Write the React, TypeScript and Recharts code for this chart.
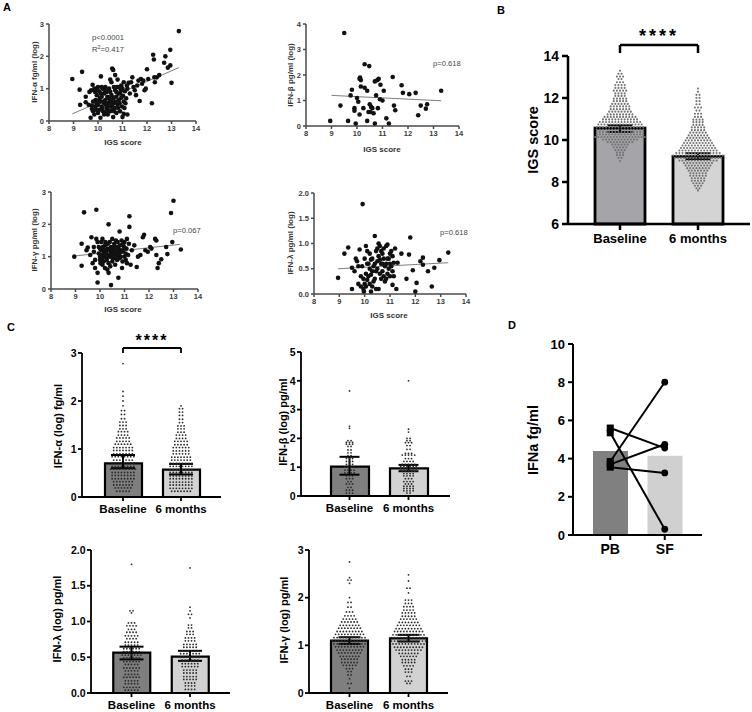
import React from 'react';
import { ScatterChart, ComposedChart, Scatter, Bar, Cell, XAxis, YAxis, ReferenceLine, ErrorBar } from 'recharts';

const FONT = "'Liberation Sans', Arial, Helvetica, sans-serif";

// ---------------- Panel A data (IGS score vs IFN levels) ----------------
const igsTicks = [8, 9, 10, 11, 12, 13, 14];
const alphaTicks = [0, 1, 2, 3];
const betaTicks = [0, 1, 2, 3, 4];
const gammaTicks = [0, 1, 2, 3];
const lambdaTicks = [0, 0.5, 1, 1.5, 2];

const alphaPts: [number, number][] = [
  [8.95, 1.3], [9.25, 0.97], [9.35, 1.52], [9.27, 0.5], [9.5, 0.75], [9.5, 0.58], [9.7, 0.1], [9.75, 0.48], [9.75, 0.38],
  [9.72, 0.95], [9.78, 1.12], [9.8, 0.3], [9.85, 0.2], [9.9, 0.65], [9.9, 0.45], [9.95, 0.55], [9.95, 1.0], [9.95, 0.8],
  [10.0, 0.25], [10.0, 1.05], [10.05, 0.35], [10.05, 0.92], [10.1, 0.1], [10.1, 0.6], [10.12, 1.38], [10.15, 0.45],
  [10.15, 0.75], [10.2, 1.0], [10.2, 0.3], [10.25, 0.55], [10.25, 0.85], [10.3, 0.25], [10.3, 1.05], [10.3, 0.65],
  [10.35, 0.4], [10.35, 0.9], [10.4, 0.55], [10.4, 0.2], [10.45, 1.0], [10.45, 0.7], [10.5, 0.3], [10.5, 1.28],
  [10.52, 0.45], [10.55, 0.8], [10.55, 1.2], [10.58, 1.62], [10.62, 1.58], [10.6, 0.35], [10.62, 0.12], [10.65, 0.55],
  [10.65, 1.05], [10.7, 0.95], [10.7, 1.42], [10.75, 0.25], [10.75, 0.75], [10.8, 1.28], [10.8, 0.5], [10.85, 1.05],
  [10.85, 0.65], [10.9, 0.85], [10.9, 0.3], [10.95, 1.1], [10.95, 0.72], [11.0, 1.0], [11.0, 0.12], [11.02, 0.78],
  [11.05, 0.22], [11.05, 1.2], [11.1, 0.92], [11.12, 0.55], [11.2, 0.2], [11.2, 1.0], [11.25, 1.18], [11.3, 0.85],
  [11.35, 1.2], [11.4, 1.35], [11.45, 1.05], [11.5, 0.95], [11.55, 0.8], [11.6, 1.1], [11.65, 1.25], [11.7, 0.62],
  [11.75, 1.3], [11.8, 1.15], [11.85, 1.25], [11.9, 0.95], [11.95, 1.0], [12.0, 1.6], [12.05, 1.3], [12.2, 0.55],
  [12.25, 2.05], [12.28, 1.9], [12.3, 1.35], [12.32, 1.2], [12.4, 1.35], [12.5, 1.42], [12.7, 1.8], [12.75, 2.0],
  [12.85, 1.65], [12.95, 2.2], [12.95, 1.72], [13.0, 1.18], [13.3, 2.78],
  [9.8, 0.6], [9.88, 0.9], [10.0, 0.5], [10.08, 0.72], [10.12, 0.85], [10.18, 0.4], [10.22, 0.6], [10.28, 0.95],
  [10.32, 0.5], [10.38, 0.75], [10.42, 0.32], [10.48, 0.6], [10.5, 0.9], [10.58, 0.5], [10.62, 0.7], [10.68, 0.4],
  [10.72, 0.6], [10.78, 1.05], [10.82, 0.4], [10.88, 0.55], [10.92, 1.0], [10.98, 0.45], [11.05, 0.6], [11.08, 0.4],
  [11.15, 0.7], [11.18, 1.1], [9.92, 0.35], [10.05, 0.65], [10.15, 1.05], [10.25, 0.2], [10.35, 0.3], [10.45, 0.45],
  [10.55, 0.6], [10.65, 0.3], [10.75, 0.9], [10.85, 0.85], [10.95, 0.95], [9.65, 0.9], [9.62, 0.5], [9.85, 1.0],
];
const alphaFit: [number, number][] = [[8.95, 0.22], [13.3, 1.65]];

const betaPts: [number, number][] = [
  [8.95, 0.2], [9.35, 0.8], [9.5, 3.65], [9.65, 0.2], [9.75, 1.2], [9.8, 1.42], [9.9, 0.7], [9.9, 0.6], [9.95, 0.1],
  [10.0, 1.1], [10.05, 0.95], [10.1, 0.45], [10.1, 1.85], [10.12, 1.9], [10.15, 1.8], [10.15, 1.55], [10.25, 0.7],
  [10.3, 2.42], [10.3, 1.5], [10.4, 1.38], [10.4, 0.2], [10.45, 0.55], [10.48, 2.35], [10.5, 0.85], [10.52, 0.55],
  [10.55, 0.75], [10.6, 0.7], [10.65, 0.5], [10.7, 0.1], [10.7, 1.75], [10.75, 1.2], [10.8, 1.8], [10.85, 1.85],
  [10.82, 0.7], [10.9, 1.05], [10.92, 1.62], [11.0, 1.0], [11.05, 1.38], [11.15, 0.3], [11.25, 0.1], [11.4, 1.92],
  [11.45, 0.8], [11.5, 0.62], [11.75, 1.6], [11.8, 1.3], [12.05, 1.25], [12.3, 1.3], [12.4, 0.42], [12.5, 0.8],
  [12.7, 0.68], [12.75, 0.85], [13.3, 1.38],
];
const betaFit: [number, number][] = [[9.0, 1.2], [13.3, 0.99]];

const gammaPts: [number, number][] = [
  [8.95, 1.0], [9.25, 1.4], [9.25, 0.72], [9.35, 2.37], [9.45, 1.2], [9.5, 1.28], [9.6, 1.05], [9.65, 1.6], [9.7, 0.8],
  [9.75, 1.15], [9.8, 0.65], [9.85, 2.45], [9.85, 1.55], [9.9, 0.2], [9.9, 0.5], [9.95, 1.3], [10.0, 1.0], [10.0, 0.9],
  [10.05, 1.2], [10.1, 1.55], [10.1, 0.75], [10.15, 1.1], [10.2, 0.65], [10.2, 1.35], [10.25, 1.0], [10.3, 0.6],
  [10.3, 1.25], [10.35, 0.5], [10.35, 2.0], [10.4, 1.45], [10.45, 0.12], [10.45, 1.1], [10.5, 0.85], [10.5, 1.55],
  [10.55, 1.3], [10.6, 0.95], [10.65, 1.5], [10.7, 1.15], [10.75, 0.35], [10.75, 1.0], [10.8, 1.78], [10.85, 1.2],
  [10.9, 0.65], [10.95, 1.4], [11.0, 1.0], [11.05, 0.9], [11.1, 1.55], [11.2, 2.25], [11.2, 1.92], [11.25, 0.75],
  [11.3, 1.2], [11.4, 1.35], [11.5, 0.68], [11.55, 1.0], [11.65, 1.05], [11.75, 1.6], [11.8, 1.68], [11.85, 1.2],
  [11.95, 1.15], [12.05, 1.3], [12.1, 1.25], [12.25, 1.55], [12.3, 1.5], [12.3, 1.05], [12.35, 0.65], [12.4, 0.8],
  [12.5, 0.92], [12.7, 1.3], [12.75, 1.08], [12.9, 2.35], [12.95, 1.45], [13.0, 2.73], [13.3, 1.22],
  [9.95, 1.1], [10.0, 1.25], [10.02, 0.8], [10.05, 1.45], [10.08, 1.05], [10.1, 0.95], [10.12, 1.3], [10.15, 0.85],
  [10.18, 1.2], [10.2, 1.0], [10.22, 1.45], [10.25, 1.15], [10.28, 0.9], [10.3, 1.05], [10.32, 1.4], [10.35, 0.8],
  [10.38, 1.2], [10.4, 1.0], [10.42, 0.7], [10.45, 1.3], [10.48, 1.05], [10.5, 1.2], [10.52, 0.95], [10.55, 1.1],
  [10.58, 1.4], [10.6, 1.2], [10.62, 0.75], [10.65, 1.05], [10.68, 1.3], [10.7, 0.9], [10.72, 1.45], [10.75, 1.25],
  [10.78, 1.1], [10.8, 0.95], [10.82, 1.35], [10.85, 1.0], [10.88, 1.5], [10.9, 1.15], [10.92, 0.85], [10.95, 1.2],
  [10.98, 1.3], [11.0, 1.45], [11.05, 1.1], [11.08, 1.25], [11.1, 0.8], [11.15, 1.05], [11.18, 1.4], [9.75, 1.3],
  [9.9, 1.45], [9.8, 0.9],
];
const gammaFit: [number, number][] = [[8.95, 1.02], [13.25, 1.38]];

const lambdaPts: [number, number][] = [
  [8.95, 0.32], [9.2, 0.8], [9.35, 0.92], [9.5, 0.52], [9.5, 0.1], [9.6, 0.45], [9.65, 0.7], [9.7, 0.65], [9.75, 0.2],
  [9.75, 0.55], [9.8, 0.88], [9.85, 0.15], [9.9, 0.55], [9.92, 1.78], [9.95, 0.1], [9.97, 0.05], [10.0, 0.7],
  [10.05, 0.4], [10.05, 0.95], [10.1, 0.28], [10.1, 0.6], [10.15, 0.35], [10.2, 0.5], [10.2, 0.8], [10.25, 0.05],
  [10.25, 0.68], [10.3, 0.15], [10.3, 0.45], [10.35, 0.25], [10.4, 1.15], [10.4, 0.6], [10.45, 0.1], [10.45, 0.85],
  [10.5, 0.9], [10.5, 0.5], [10.55, 0.1], [10.55, 1.0], [10.6, 0.68], [10.6, 0.95], [10.65, 0.3], [10.65, 0.6],
  [10.7, 0.8], [10.7, 0.45], [10.75, 0.35], [10.75, 0.7], [10.8, 0.25], [10.85, 0.95], [10.85, 0.6], [10.9, 0.98],
  [10.9, 0.4], [10.95, 0.7], [11.0, 0.35], [11.0, 0.8], [11.05, 0.55], [11.1, 0.18], [11.1, 0.75], [11.15, 0.62],
  [11.2, 0.9], [11.25, 0.1], [11.3, 0.62], [11.45, 0.8], [11.65, 0.3], [11.75, 0.78], [11.8, 1.12], [11.9, 0.47],
  [12.0, 0.05], [12.05, 0.22], [12.2, 0.65], [12.3, 0.72], [12.3, 0.58], [12.5, 0.45], [12.65, 0.15], [12.75, 0.52],
  [12.95, 0.67], [13.3, 0.82],
  [9.85, 0.35], [9.95, 0.3], [10.0, 0.2], [10.05, 0.15], [10.1, 0.85], [10.15, 0.6], [10.2, 0.2], [10.25, 0.38],
  [10.3, 0.7], [10.35, 0.55], [10.4, 0.3], [10.45, 0.45], [10.5, 0.65], [10.55, 0.75], [10.6, 0.4], [10.65, 0.85],
  [10.7, 0.6], [10.75, 0.9], [10.8, 0.55], [10.85, 0.3], [10.9, 0.7], [10.95, 0.5], [11.0, 0.6], [11.05, 0.85],
  [11.1, 0.45], [11.15, 0.35],
];
const lambdaFit: [number, number][] = [[8.95, 0.5], [13.3, 0.62]];

// ---------------- Panel B / C data (bar = mean, dots = individual values as [value, count] rows) ----------------
const timeCats = ['Baseline', '6 months'];

const igsMeans = [10.56, 9.22];
const igsErrs: [number, number][] = [[0.18, 0.14], [0.13, 0.15]];
const igsTicksB = [6, 8, 10, 12, 14];
const igsBaseRows: [number, number][] = [
  [13.3, 1], [13.15, 2], [13.02, 3], [12.9, 2], [12.75, 3], [12.62, 4], [12.48, 4], [12.35, 5], [12.22, 4], [12.1, 4],
  [11.97, 5], [11.85, 5], [11.72, 6], [11.6, 7], [11.47, 7], [11.35, 8], [11.22, 9], [11.1, 11], [10.98, 12],
  [10.86, 14], [10.74, 15], [10.62, 16], [10.5, 16], [10.38, 16], [10.26, 16], [10.14, 17], [10.02, 12], [9.9, 9],
  [9.78, 6], [9.65, 5], [9.52, 4], [9.4, 3], [9.28, 3], [9.15, 2], [9.0, 1],
];
const igs6mRows: [number, number][] = [
  [12.45, 1], [12.3, 1], [12.15, 2], [12.0, 2], [11.85, 2], [11.7, 2], [11.55, 3], [11.4, 2], [11.25, 3], [11.1, 3],
  [10.97, 4], [10.85, 4], [10.72, 4], [10.6, 5], [10.47, 5], [10.35, 6], [10.22, 7], [10.1, 8], [9.98, 9], [9.86, 10],
  [9.74, 11], [9.62, 12], [9.5, 13], [9.38, 15], [9.26, 17], [9.14, 16], [9.02, 13], [8.9, 10], [8.78, 9], [8.66, 8],
  [8.54, 7], [8.42, 6], [8.3, 6], [8.18, 5], [8.06, 5], [7.94, 4], [7.82, 3], [7.7, 2], [7.6, 1],
];

const alphaMeans = [0.7, 0.57];
const alphaErrs: [number, number][] = [[0.1, 0.175], [0.1, 0.12]];
const alphaBaseRows: [number, number][] = [
  [2.78, 1], [2.2, 1], [2.1, 1], [2.0, 1], [1.9, 1], [1.8, 2], [1.72, 2], [1.63, 2], [1.56, 3], [1.49, 3], [1.42, 3],
  [1.36, 4], [1.29, 4], [1.23, 5], [1.16, 5], [1.1, 6], [1.03, 7], [0.97, 7], [0.9, 7], [0.84, 8], [0.77, 7], [0.71, 8],
  [0.64, 8], [0.58, 9], [0.51, 8], [0.45, 8], [0.38, 8], [0.32, 7], [0.25, 7], [0.19, 6], [0.12, 5],
];
const alpha6mRows: [number, number][] = [
  [1.9, 1], [1.84, 2], [1.77, 2], [1.7, 2], [1.62, 2], [1.55, 2], [1.48, 3], [1.42, 3], [1.35, 3], [1.29, 4], [1.22, 4],
  [1.16, 5], [1.09, 5], [1.03, 6], [0.96, 6], [0.9, 6], [0.83, 7], [0.77, 7], [0.7, 8], [0.64, 8], [0.57, 8], [0.51, 8],
  [0.44, 8], [0.38, 8], [0.31, 8], [0.25, 8], [0.18, 8], [0.12, 7],
];

const betaMeans = [1.02, 0.96];
const betaErrs: [number, number][] = [[0.28, 0.34], [0.1, 0.12]];
const betaBaseRows: [number, number][] = [
  [3.65, 1], [2.42, 1], [2.35, 1], [1.92, 2], [1.86, 3], [1.8, 3], [1.72, 2], [1.6, 2], [1.5, 2], [1.4, 2], [1.3, 3],
  [1.2, 3], [1.1, 3], [1.0, 4], [0.9, 4], [0.8, 4], [0.7, 3], [0.6, 3], [0.5, 2], [0.42, 3], [0.3, 2], [0.2, 3], [0.1, 3],
];
const beta6mRows: [number, number][] = [
  [4.0, 1], [2.32, 1], [2.22, 1], [2.0, 2], [1.92, 2], [1.85, 3], [1.75, 2], [1.62, 2], [1.48, 3], [1.42, 5], [1.3, 3],
  [1.2, 4], [1.1, 5], [1.02, 6], [0.94, 6], [0.86, 5], [0.78, 4], [0.7, 4], [0.6, 3], [0.5, 4], [0.42, 3],
  [0.34, 4], [0.26, 4], [0.18, 4], [0.1, 2],
];

const lambdaMeans = [0.564, 0.51];
const lambdaErrs: [number, number][] = [[0.094, 0.084], [0.06, 0.08]];
const lambdaBaseRows: [number, number][] = [
  [1.8, 1], [1.15, 2], [1.12, 1], [0.98, 3], [0.94, 4], [0.89, 3], [0.85, 4], [0.8, 5], [0.76, 4], [0.71, 5], [0.67, 5],
  [0.62, 6], [0.58, 6], [0.53, 7], [0.49, 6], [0.44, 6], [0.4, 5], [0.35, 6], [0.31, 5], [0.26, 5], [0.22, 6], [0.17, 5],
  [0.13, 5], [0.08, 6], [0.04, 5],
];
const lambda6mRows: [number, number][] = [
  [1.75, 1], [1.2, 1], [1.15, 1], [1.1, 2], [1.05, 1], [0.95, 2], [0.91, 2], [0.86, 3], [0.82, 3], [0.77, 4], [0.73, 4],
  [0.68, 5], [0.64, 5], [0.59, 6], [0.55, 7], [0.5, 7], [0.46, 6], [0.41, 6], [0.37, 6], [0.32, 5], [0.28, 5], [0.23, 5],
  [0.19, 5], [0.14, 4], [0.1, 4], [0.05, 4],
];

const gammaMeans = [1.097, 1.147];
const gammaErrs: [number, number][] = [[0.067, 0.073], [0.067, 0.073]];
const gammaBaseRows: [number, number][] = [
  [2.75, 1], [2.42, 1], [2.37, 2], [2.3, 1], [2.0, 1], [1.9, 2], [1.8, 2], [1.7, 3], [1.62, 4], [1.55, 5], [1.49, 6],
  [1.42, 7], [1.36, 8], [1.29, 9], [1.23, 10], [1.16, 11], [1.1, 12], [1.03, 11], [0.97, 10], [0.9, 9], [0.84, 8],
  [0.77, 7], [0.71, 6], [0.64, 6], [0.58, 5], [0.51, 3], [0.45, 2], [0.38, 2], [0.3, 1], [0.2, 2], [0.1, 1],
];
const gamma6mRows: [number, number][] = [
  [2.48, 1], [2.35, 1], [2.2, 2], [2.1, 1], [1.95, 3], [1.88, 3], [1.81, 4], [1.74, 4], [1.68, 5], [1.61, 5], [1.55, 6],
  [1.48, 7], [1.42, 8], [1.35, 9], [1.29, 10], [1.22, 11], [1.16, 12], [1.09, 12], [1.03, 11], [0.96, 10], [0.9, 9],
  [0.83, 7], [0.77, 6], [0.7, 5], [0.64, 5], [0.57, 4], [0.5, 3], [0.44, 3], [0.35, 2], [0.25, 3], [0.2, 2],
];

// ---------------- Panel D data ----------------
const dCats = ['PB', 'SF'];
const dMeans = [4.4, 4.15];
const dPairs: [number, number][] = [[5.6, 4.55], [5.35, 0.3], [3.85, 8.0], [3.7, 4.75], [3.55, 3.25]];
const dTicks = [0, 2, 4, 6, 8, 10];

// ---------------- helpers ----------------
type Rect = [number, number, number, number];

function swarm(cat: string, rows: [number, number][]) {
  const out: { name: string; v: number; slot: number }[] = [];
  rows.forEach(([v, n]) => {
    for (let i = 0; i < n; i++) out.push({ name: cat, v, slot: i - (n - 1) / 2 });
  });
  return out;
}

function ScatterPanel({ rect, pts, fit, yTicks, yMax, fmt }: any) {
  const [x0, y0, x1, y1] = rect as Rect;
  const L = 34, T = 8, R = 8, B = 22;
  const data = (pts as [number, number][]).map(([x, y]) => ({ x, y }));
  const ax = { stroke: '#4a4a4a', strokeWidth: 1.5 };
  const tk = { fontSize: 7.5, fill: '#3a3a3a', fontFamily: FONT, fontWeight: 700 };
  return (
    <div style={{ position: 'absolute', left: x0 - L, top: y0 - T }}>
      <ScatterChart width={x1 - x0 + L + R} height={y1 - y0 + T + B} margin={{ top: T, right: R, bottom: 0, left: 0 }}>
        <XAxis type="number" dataKey="x" domain={[8, 14]} ticks={igsTicks} interval={0} height={B}
          axisLine={ax} tickLine={ax} tickSize={3} tickMargin={2} tick={tk} />
        <YAxis type="number" dataKey="y" domain={[0, yMax]} ticks={yTicks} interval={0} width={L}
          axisLine={ax} tickLine={ax} tickSize={3} tickMargin={2} tick={tk} tickFormatter={fmt} />
        <ReferenceLine segment={[{ x: fit[0][0], y: fit[0][1] }, { x: fit[1][0], y: fit[1][1] }]}
          stroke="#6f6f6f" strokeWidth={0.9} />
        <Scatter data={data} isAnimationActive={false}
          shape={(p: any) => <circle cx={p.cx} cy={p.cy} r={2.3} fill="#111" />} />
      </ScatterChart>
    </div>
  );
}

function BarPanel(props: any) {
  const {
    rect, pad, barSize, means, errs, rows, fills, yDomain, yTicks, fmt,
    dotR, dotGap, dotFill, axW, barW, tickFs, catFs, capW, tickSize, tickMargin, bracket,
  } = props;
  const [x0, y0, x1, y1] = rect as Rect;
  const L = 44, T = 34, R = 4, B = 30;
  const barData = timeCats.map((c, i) => ({ name: c, mean: means[i], err: errs[i] }));
  const pts = timeCats.flatMap((c, i) => swarm(c, rows[i]));
  const ax = { stroke: '#000', strokeWidth: axW };
  return (
    <div style={{ position: 'absolute', left: x0 - L, top: y0 - T }}>
      <ComposedChart width={x1 - x0 + L + R} height={y1 - y0 + T + B} data={barData}
        margin={{ top: T, right: R, bottom: 0, left: 0 }} style={{ overflow: 'visible' }}>
        <XAxis dataKey="name" type="category" allowDuplicatedCategory={false} height={B}
          padding={{ left: pad[0], right: pad[1] }} axisLine={ax} tickLine={ax} tickSize={tickSize} tickMargin={4}
          tick={{ fontSize: catFs, fill: '#000', fontFamily: FONT, fontWeight: 700 }} interval={0} />
        <YAxis type="number" domain={yDomain} ticks={yTicks} interval={0} width={L} axisLine={ax} tickLine={ax}
          tickSize={tickSize} tickMargin={tickMargin} tickFormatter={fmt}
          tick={{ fontSize: tickFs, fill: '#000', fontFamily: FONT, fontWeight: 700 }} />
        <Bar dataKey="mean" barSize={barSize} stroke="#000" strokeWidth={barW} isAnimationActive={false}>
          {timeCats.map((c, i) => <Cell key={c} fill={fills[i]} />)}
        </Bar>
        <Scatter data={pts} dataKey="v" isAnimationActive={false}
          shape={(p: any) => <circle cx={p.cx + p.payload.slot * dotGap} cy={p.cy} r={dotR} fill={dotFill} />} />
        <Scatter data={barData} dataKey="mean" isAnimationActive={false} shape={() => <g />}>
          <ErrorBar dataKey="err" direction="y" width={capW} stroke="#000" strokeWidth={2} />
        </Scatter>
        {bracket && (
          <ReferenceLine ifOverflow="visible" stroke="#000" strokeWidth={bracket.w}
            segment={[{ x: timeCats[0], y: bracket.y }, { x: timeCats[1], y: bracket.y }]}
            label={{ value: '****', position: 'top', offset: bracket.off, fontSize: bracket.fs, fontWeight: 700,
              fill: '#000', fontFamily: FONT, letterSpacing: bracket.ls }} />
        )}
        {bracket && (
          <ReferenceLine ifOverflow="visible" stroke="#000" strokeWidth={bracket.w}
            segment={[{ x: timeCats[0], y: bracket.y }, { x: timeCats[0], y: bracket.y2 }]} />
        )}
        {bracket && (
          <ReferenceLine ifOverflow="visible" stroke="#000" strokeWidth={bracket.w}
            segment={[{ x: timeCats[1], y: bracket.y }, { x: timeCats[1], y: bracket.y2 }]} />
        )}
      </ComposedChart>
    </div>
  );
}

function PanelD() {
  const [x0, y0, x1, y1]: Rect = [573, 344, 702, 535];
  const L = 40, T = 10, R = 4, B = 30;
  const barData = dCats.map((c, i) => ({ name: c, mean: dMeans[i] }));
  const ax = { stroke: '#000', strokeWidth: 2 };
  const fills = ['#808080', '#d0d0d0'];
  return (
    <div style={{ position: 'absolute', left: x0 - L, top: y0 - T }}>
      <ComposedChart width={x1 - x0 + L + R} height={y1 - y0 + T + B} data={barData}
        margin={{ top: T, right: R, bottom: 0, left: 0 }} style={{ overflow: 'visible' }}>
        <XAxis dataKey="name" type="category" allowDuplicatedCategory={false} height={B}
          padding={{ left: 10, right: 10 }} axisLine={ax} tickLine={ax} tickSize={5} tickMargin={4} interval={0}
          tick={{ fontSize: 14, fill: '#000', fontFamily: FONT, fontWeight: 700 }} />
        <YAxis type="number" domain={[0, 10]} ticks={dTicks} interval={0} width={L} axisLine={ax} tickLine={ax}
          tickSize={5} tickMargin={3} tick={{ fontSize: 13, fill: '#000', fontFamily: FONT, fontWeight: 700 }} />
        <Bar dataKey="mean" barSize={35} isAnimationActive={false}>
          {dCats.map((c, i) => <Cell key={c} fill={fills[i]} />)}
        </Bar>
        {dPairs.map(([a, b], i) => (
          <Scatter key={i} data={[{ name: dCats[0], v: a }, { name: dCats[1], v: b }]} dataKey="v"
            isAnimationActive={false} line={{ stroke: '#000', strokeWidth: 2 }}
            shape={(p: any) => p.payload.name === 'PB'
              ? <rect x={p.cx - 3.5} y={p.cy - 3.5} width={7} height={7} fill="#000" />
              : <circle cx={p.cx} cy={p.cy} r={3.4} fill="#000" />} />
        ))}
      </ComposedChart>
    </div>
  );
}

const one = (v: number) => v.toFixed(1);

function Overlay() {
  const small = { fontFamily: FONT, fontSize: 8, fontWeight: 700, fill: '#333' } as any;
  const stat = { fontFamily: FONT, fontSize: 7.6, fill: '#444' } as any;
  const rot = (x: number, y: number) => `translate(${x},${y}) rotate(-90)`;
  const cT = { fontFamily: FONT, fontSize: 11, fontWeight: 700, fill: '#000' } as any;
  const big = { fontFamily: FONT, fontSize: 14.5, fontWeight: 700, fill: '#000' } as any;
  const letter = { fontFamily: FONT, fontSize: 11, fontWeight: 700, fill: '#000' } as any;
  return (
    <svg width={752} height={712} style={{ position: 'absolute', left: 0, top: 0, pointerEvents: 'none' }}>
      <text x={3} y={11} {...letter}>A</text>
      <text x={497} y={14} {...letter}>B</text>
      <text x={7} y={331} {...letter}>C</text>
      <text x={508} y={329} {...letter}>D</text>

      <text x={123} y={145} textAnchor="middle" {...small}>IGS score</text>
      <text x={382} y={152} textAnchor="middle" {...small}>IGS score</text>
      <text x={123} y={312} textAnchor="middle" {...small}>IGS score</text>
      <text x={389} y={318} textAnchor="middle" {...small}>IGS score</text>

      <text transform={rot(34, 72)} textAnchor="middle" dominantBaseline="central" {...small}>IFN-α fg/ml (log)</text>
      <text transform={rot(290, 75)} textAnchor="middle" dominantBaseline="central" {...small}>IFN-β pg/ml (log)</text>
      <text transform={rot(34, 240)} textAnchor="middle" dominantBaseline="central" {...small}>IFN-γ pg/ml (log)</text>
      <text transform={rot(290, 243)} textAnchor="middle" dominantBaseline="central" {...small}>IFN-λ pg/ml (log)</text>

      <text x={92} y={40} {...stat}>p&lt;0.0001</text>
      <text x={92} y={52} {...stat}>R<tspan dy={-3} fontSize={5.5}>2</tspan><tspan dy={3}>=0.417</tspan></text>
      <text x={433} y={66} {...stat}>p=0.618</text>
      <text x={173} y={233} {...stat}>p=0.067</text>
      <text x={440} y={235} {...stat}>p=0.618</text>

      <text transform={rot(533, 140)} textAnchor="middle" dominantBaseline="central" {...big}>IGS score</text>
      <text transform={rot(57.5, 426)} textAnchor="middle" dominantBaseline="central" {...cT}>IFN-α (log) fg/ml</text>
      <text transform={rot(283, 422)} textAnchor="middle" dominantBaseline="central" {...cT}>IFN-β (log) pg/ml</text>
      <text transform={rot(57, 619)} textAnchor="middle" dominantBaseline="central" {...cT}>IFN-λ (log) pg/ml</text>
      <text transform={rot(284, 620)} textAnchor="middle" dominantBaseline="central" {...cT}>IFN-γ (log) pg/ml</text>
      <text transform={rot(533, 440)} textAnchor="middle" dominantBaseline="central" {...big}>IFNa fg/ml</text>
    </svg>
  );
}

const cStyle = { dotR: 0.9, dotGap: 3.1, dotFill: '#2a2a2a', axW: 1.8, barW: 2.2, tickFs: 10.5, catFs: 11.5, tickSize: 4, tickMargin: 1.5 };
const cFills = ['#7f7f7f', '#d2d2d2'];

export default function App() {
  return (
    <div style={{ position: 'absolute', left: 0, top: 0, width: 752, height: 712, background: '#fff', overflow: 'hidden' }}>
      <ScatterPanel rect={[49, 24, 196, 121]} pts={alphaPts} fit={alphaFit} yTicks={alphaTicks} yMax={3} />
      <ScatterPanel rect={[306, 24, 459, 126]} pts={betaPts} fit={betaFit} yTicks={betaTicks} yMax={4} />
      <ScatterPanel rect={[51, 192, 198, 289]} pts={gammaPts} fit={gammaFit} yTicks={gammaTicks} yMax={3} />
      <ScatterPanel rect={[314, 193, 466, 294]} pts={lambdaPts} fit={lambdaFit} yTicks={lambdaTicks} yMax={2} fmt={one} />

      <BarPanel rect={[568, 56, 750, 224]} pad={[13, 13]} barSize={50} means={igsMeans} errs={igsErrs}
        rows={[igsBaseRows, igs6mRows]} fills={['#a4a4a9', '#d4d4d4']} yDomain={[6, 14]} yTicks={igsTicksB}
        dotR={1.05} dotGap={3.1} dotFill="#737373" axW={2.5} barW={2.8} tickFs={14} catFs={13} capW={12.5}
        tickSize={6} tickMargin={3}
        bracket={{ y: 14.52, y2: 14.14, w: 2.5, fs: 18, off: 3, ls: 3 }} />

      <BarPanel rect={[82, 353, 221, 497]} pad={[12, 11]} barSize={37} means={alphaMeans} errs={alphaErrs}
        rows={[alphaBaseRows, alpha6mRows]} fills={cFills} yDomain={[0, 3]} yTicks={[0, 1, 2, 3]} capW={12}
        bracket={{ y: 3.104, y2: 3.0, w: 1.8, fs: 16, off: 2, ls: 2 }} {...cStyle} />
      <BarPanel rect={[301, 352, 450, 496]} pad={[19, 12]} barSize={38} means={betaMeans} errs={betaErrs}
        rows={[betaBaseRows, beta6mRows]} fills={cFills} yDomain={[0, 5]} yTicks={[0, 1, 2, 3, 4, 5]} capW={10}
        {...cStyle} />
      <BarPanel rect={[91, 550, 230, 693]} pad={[11.25, 10.75]} barSize={37} means={lambdaMeans} errs={lambdaErrs}
        rows={[lambdaBaseRows, lambda6mRows]} fills={cFills} yDomain={[0, 2]} yTicks={[0, 0.5, 1, 1.5, 2]} fmt={one}
        capW={12} {...cStyle} />
      <BarPanel rect={[309, 550, 448, 693]} pad={[11, 10]} barSize={37} means={gammaMeans} errs={gammaErrs}
        rows={[gammaBaseRows, gamma6mRows]} fills={cFills} yDomain={[0, 3]} yTicks={[0, 1, 2, 3]} capW={11}
        {...cStyle} />

      <PanelD />
      <Overlay />
    </div>
  );
}
